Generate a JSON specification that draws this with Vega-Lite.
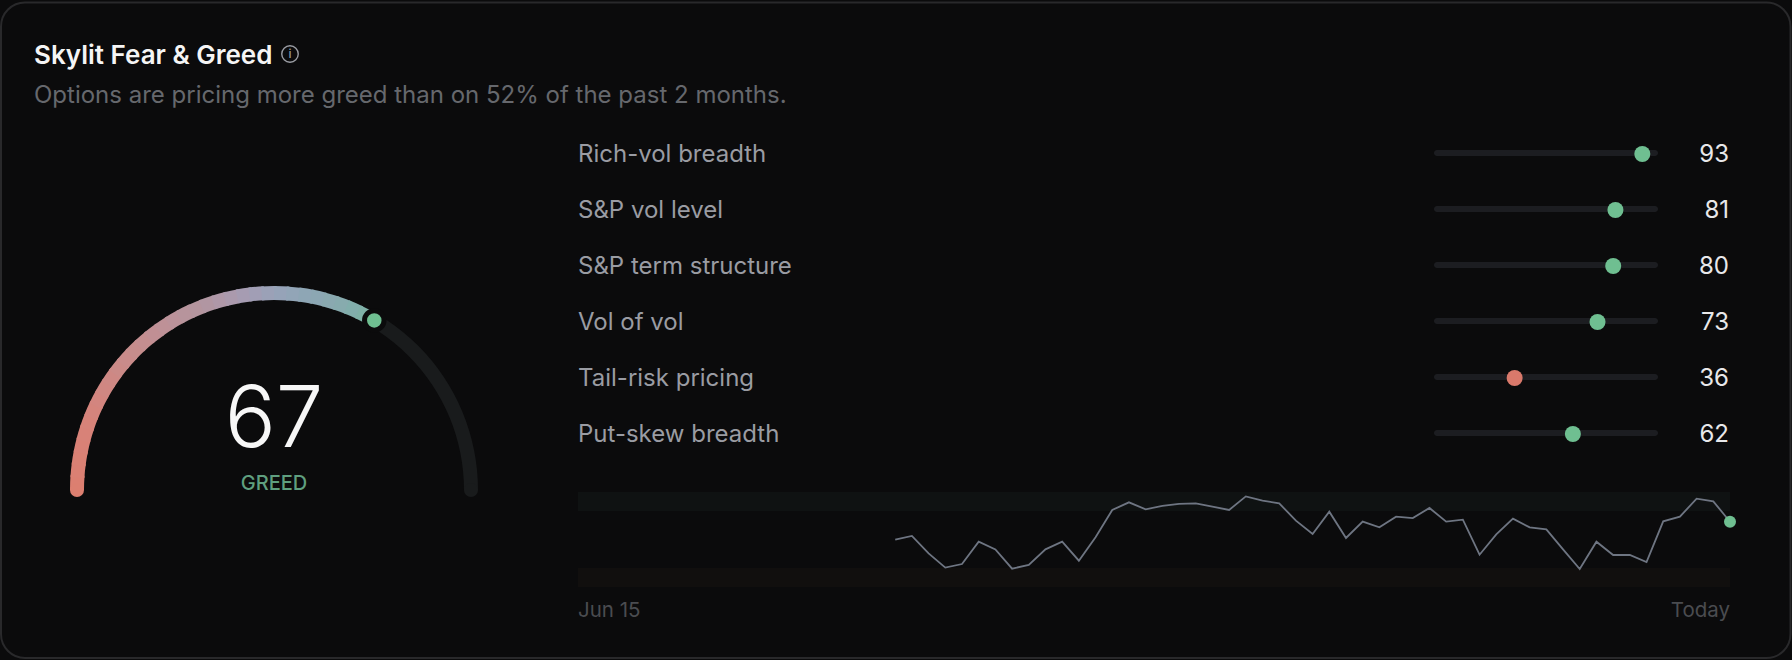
{
"$schema":"https://vega.github.io/schema/vega-lite/v6.json",
"width":1792,"height":660,"padding":0,"autosize":{"type":"none"},
"background":"#0b0b0c",
"config":{"font":"Inter","view":{"continuousWidth":1792,"continuousHeight":660,"stroke":null}},
"title":{"text":"Skylit Fear & Greed","subtitle":"Options are pricing more greed than on 52% of the past 2 months.","anchor":"start","frame":"group","dx":34,"dy":128.5,"offset":0,"baseline":"alphabetic","font":"Inter","fontSize":26,"fontWeight":600,"color":"#f5f5f5","subtitleFont":"Inter","subtitleFontSize":24,"subtitleFontWeight":400,"subtitleColor":"#66686d","subtitlePadding":12.5},
"datasets":{
"drivers":[{"driver":"Rich-vol breadth","score":93},{"driver":"S&P vol level","score":81},{"driver":"S&P term structure","score":80},{"driver":"Vol of vol","score":73},{"driver":"Tail-risk pricing","score":36},{"driver":"Put-skew breadth","score":62}],
"gauge":[{"from":0,"to":2.4,"p":1},{"from":2,"to":4.4,"p":3},{"from":4,"to":6.4,"p":5},{"from":6,"to":8.4,"p":7},{"from":8,"to":10.4,"p":9},{"from":10,"to":12.4,"p":11},{"from":12,"to":14.4,"p":13},{"from":14,"to":16.4,"p":15},{"from":16,"to":18.4,"p":17},{"from":18,"to":20.4,"p":19},{"from":20,"to":22.4,"p":21},{"from":22,"to":24.4,"p":23},{"from":24,"to":26.4,"p":25},{"from":26,"to":28.4,"p":27},{"from":28,"to":30.4,"p":29},{"from":30,"to":32.4,"p":31},{"from":32,"to":34.4,"p":33},{"from":34,"to":36.4,"p":35},{"from":36,"to":38.4,"p":37},{"from":38,"to":40.4,"p":39},{"from":40,"to":42.4,"p":41},{"from":42,"to":44.4,"p":43},{"from":44,"to":46.4,"p":45},{"from":46,"to":48.4,"p":47},{"from":48,"to":50.4,"p":49},{"from":50,"to":52.4,"p":51},{"from":52,"to":54.4,"p":53},{"from":54,"to":56.4,"p":55},{"from":56,"to":58.4,"p":57},{"from":58,"to":60.4,"p":59},{"from":60,"to":62.4,"p":61},{"from":62,"to":64.4,"p":63},{"from":64,"to":67,"p":65.5}],
"bands":[{"low":0,"high":20,"zone":"fear"},{"low":80,"high":100,"zone":"greed"}],
"history":[{"i":19,"v":49.8},{"i":20,"v":53.7},{"i":21,"v":35.4},{"i":22,"v":20.4},{"i":23,"v":24.2},{"i":24,"v":47.7},{"i":25,"v":39.6},{"i":26,"v":19.3},{"i":27,"v":23.2},{"i":28,"v":39.6},{"i":29,"v":47.7},{"i":30,"v":27.7},{"i":31,"v":52.3},{"i":32,"v":81.1},{"i":33,"v":89.1},{"i":34,"v":81.8},{"i":35,"v":85.3},{"i":36,"v":87.4},{"i":37,"v":88.1},{"i":38,"v":84.6},{"i":39,"v":81.1},{"i":40,"v":95.4},{"i":41,"v":90.9},{"i":42,"v":88.1},{"i":43,"v":69.8},{"i":44,"v":55.8},{"i":45,"v":79.3},{"i":46,"v":51.6},{"i":47,"v":68.8},{"i":48,"v":62.8},{"i":49,"v":74.0},{"i":50,"v":72.6},{"i":51,"v":83.2},{"i":52,"v":68.8},{"i":53,"v":70.9},{"i":54,"v":34.0},{"i":55,"v":55.4},{"i":56,"v":71.9},{"i":57,"v":62.8},{"i":58,"v":60.7},{"i":59,"v":39.6},{"i":60,"v":18.9},{"i":61,"v":47.7},{"i":62,"v":33.7},{"i":63,"v":33.7},{"i":64,"v":26.3},{"i":65,"v":69.1},{"i":66,"v":74.0},{"i":67,"v":93.0},{"i":68,"v":90.2},{"i":69,"v":68.7}]
},
"layer":[
{"data":{"values":[{"card":"frame"}]},"mark":{"type":"rect","fill":"#0b0b0c","stroke":"#29292b","strokeWidth":2,"cornerRadius":24},
 "encoding":{"x":{"datum":0,"type":"quantitative","scale":{"domain":[0,1],"range":[1,1790.5]},"axis":null},"x2":{"datum":1},"y":{"datum":0,"type":"quantitative","scale":{"domain":[0,1],"range":[2.5,658]},"axis":null},"y2":{"datum":1}}},
{"data":{"values":[{"from":0,"to":100}]},"mark":{"type":"arc","radius":204,"radius2":190,"color":"#191b1c"},
 "encoding":{"theta":{"field":"from","type":"quantitative","stack":null,"scale":{"domain":[0,100],"range":[-1.5708,1.5708]}},"theta2":{"field":"to"},
 "x":{"datum":0,"type":"quantitative","scale":{"domain":[-1,1],"range":[77,471]},"axis":null},"y":{"datum":0,"type":"quantitative","scale":{"domain":[0,1],"range":[490,293]},"axis":null}}},
{"data":{"values":[{"s":100}]},"transform":[{"calculate":"-cos(PI*datum.s/100)","as":"gx"},{"calculate":"sin(PI*datum.s/100)","as":"gy"}],"mark":{"type":"point","filled":true,"color":"#191b1c","size":196,"opacity":1},
 "encoding":{"x":{"field":"gx","type":"quantitative","scale":{"domain":[-1,1],"range":[77,471]},"axis":null},"y":{"field":"gy","type":"quantitative","scale":{"domain":[0,1],"range":[490,293]},"axis":null}}},
{"data":{"name":"gauge"},"mark":{"type":"arc","radius":204,"radius2":190},
 "encoding":{"theta":{"field":"from","type":"quantitative","stack":null,"scale":{"domain":[0,100],"range":[-1.5708,1.5708]}},"theta2":{"field":"to"},
 "x":{"datum":0,"type":"quantitative","scale":{"domain":[-1,1],"range":[77,471]},"axis":null},"y":{"datum":0,"type":"quantitative","scale":{"domain":[0,1],"range":[490,293]},"axis":null},
 "color":{"field":"p","type":"quantitative","legend":null,"scale":{"domain":[0,12,25,38,50,60,67],"range":["#dc7f70","#d6837a","#c68d8c","#b2969f","#98a2b8","#8aa9ae","#7eb3a2"]}}}},
{"data":{"values":[{"s":0}]},"transform":[{"calculate":"-cos(PI*datum.s/100)","as":"gx"},{"calculate":"sin(PI*datum.s/100)","as":"gy"}],"mark":{"type":"point","filled":true,"color":"#dc7f70","size":196,"opacity":1},
 "encoding":{"x":{"field":"gx","type":"quantitative","scale":{"domain":[-1,1],"range":[77,471]},"axis":null},"y":{"field":"gy","type":"quantitative","scale":{"domain":[0,1],"range":[490,293]},"axis":null}}},
{"data":{"values":[{"s":67}]},"transform":[{"calculate":"-cos(PI*datum.s/100)","as":"gx"},{"calculate":"sin(PI*datum.s/100)","as":"gy"}],"mark":{"type":"point","filled":true,"color":"#6fbf91","stroke":"#0b0b0c","strokeWidth":5,"size":380,"opacity":1},
 "encoding":{"x":{"field":"gx","type":"quantitative","scale":{"domain":[-1,1],"range":[77,471]},"axis":null},"y":{"field":"gy","type":"quantitative","scale":{"domain":[0,1],"range":[490,293]},"axis":null}}},
{"data":{"values":[{"s":67,"zone":"GREED"}]},"mark":{"type":"text","align":"center","baseline":"alphabetic","font":"Inter","fontSize":85,"fontWeight":300,"color":"#f7f7f7"},
 "encoding":{"text":{"field":"s","type":"quantitative"},"x":{"datum":0,"type":"quantitative","scale":{"domain":[-1,1],"range":[77,471]},"axis":null},"y":{"datum":0.22,"type":"quantitative","scale":{"domain":[0,1],"range":[490,293]},"axis":null}}},
{"data":{"values":[{"s":67,"zone":"GREED"}]},"mark":{"type":"text","align":"center","baseline":"alphabetic","font":"Inter","fontSize":20,"fontWeight":500,"color":"#5f9f7f"},
 "encoding":{"text":{"field":"zone"},"x":{"datum":0,"type":"quantitative","scale":{"domain":[-1,1],"range":[77,471]},"axis":null},"y":{"datum":0,"type":"quantitative","scale":{"domain":[0,1],"range":[490,293]},"axis":null}}},
{"data":{"values":[{"g":"i"}]},"mark":{"type":"point","filled":false,"stroke":"#9a9ca3","strokeWidth":1.4,"size":272,"opacity":1},
 "encoding":{"x":{"datum":0,"type":"quantitative","scale":{"domain":[0,1],"range":[290,291]},"axis":null},"y":{"datum":0,"type":"quantitative","scale":{"domain":[0,1],"range":[54,55]},"axis":null}}},
{"data":{"values":[{"g":"i"}]},"mark":{"type":"text","align":"center","baseline":"middle","font":"Inter","fontSize":12,"fontWeight":500,"color":"#9a9ca3"},
 "encoding":{"text":{"field":"g"},"x":{"datum":0,"type":"quantitative","scale":{"domain":[0,1],"range":[290,291]},"axis":null},"y":{"datum":0,"type":"quantitative","scale":{"domain":[0,1],"range":[54,55]},"axis":null}}},
{"data":{"name":"drivers"},"mark":{"type":"text","align":"left","baseline":"middle","font":"Inter","fontSize":24,"fontWeight":400,"color":"#9a9ca3"},
 "encoding":{"text":{"field":"driver"},"x":{"datum":0,"type":"quantitative","scale":{"domain":[0,1],"range":[578,1729]},"axis":null},"y":{"field":"driver","type":"nominal","sort":null,"axis":null,"scale":{"type":"point","padding":0,"range":[155,435]}}}},
{"data":{"name":"drivers"},"mark":{"type":"bar","size":6,"cornerRadius":3,"color":"#1c1d21"},
 "encoding":{"x":{"datum":0,"type":"quantitative","scale":{"domain":[0,100],"range":[1434,1658]},"axis":null},"x2":{"datum":100},"y":{"field":"driver","type":"nominal","sort":null,"axis":null,"scale":{"type":"point","padding":0,"range":[153,433]}}}},
{"data":{"name":"drivers"},"mark":{"type":"point","filled":true,"size":256,"opacity":1},
 "encoding":{"x":{"field":"score","type":"quantitative","scale":{"domain":[0,100],"range":[1434,1658]},"axis":null},"y":{"field":"driver","type":"nominal","sort":null,"axis":null,"scale":{"type":"point","padding":0,"range":[154,434]}},
 "color":{"condition":{"test":"datum.score<50","value":"#d9796b"},"value":"#6fbf91"}}},
{"data":{"name":"drivers"},"mark":{"type":"text","align":"right","baseline":"middle","font":"Inter","fontSize":24,"fontWeight":400,"color":"#e8e8ea"},
 "encoding":{"text":{"field":"score","type":"quantitative"},"x":{"datum":1,"type":"quantitative","scale":{"domain":[0,1],"range":[578,1729]},"axis":null},"y":{"field":"driver","type":"nominal","sort":null,"axis":null,"scale":{"type":"point","padding":0,"range":[155,435]}}}},
{"data":{"name":"bands"},"mark":{"type":"rect"},
 "encoding":{"x":{"datum":0,"type":"quantitative","scale":{"domain":[0,69],"range":[578,1730]},"axis":null},"x2":{"datum":69},"y":{"field":"low","type":"quantitative","scale":{"domain":[0,100],"range":[587,492]},"axis":null},"y2":{"field":"high"},
 "color":{"field":"zone","type":"nominal","legend":null,"scale":{"domain":["fear","greed"],"range":["#110f0e","#0f1212"]}}}},
{"data":{"name":"history"},"mark":{"type":"line","color":"#6e7582","strokeWidth":1.8},
 "encoding":{"x":{"field":"i","type":"quantitative","scale":{"domain":[0,69],"range":[578,1730]},"axis":null},"y":{"field":"v","type":"quantitative","scale":{"domain":[0,100],"range":[587,492]},"axis":null}}},
{"data":{"name":"history"},"transform":[{"filter":"datum.i==69"}],"mark":{"type":"point","filled":true,"color":"#6fbf91","size":144,"opacity":1},
 "encoding":{"x":{"field":"i","type":"quantitative","scale":{"domain":[0,69],"range":[578,1730]},"axis":null},"y":{"field":"v","type":"quantitative","scale":{"domain":[0,100],"range":[587,492]},"axis":null}}},
{"data":{"values":[{"day":0,"label":"Jun 15"}]},"mark":{"type":"text","align":"left","baseline":"alphabetic","font":"Inter","fontSize":20.5,"color":"#4a4c50"},
 "encoding":{"text":{"field":"label"},"x":{"field":"day","type":"quantitative","scale":{"domain":[0,69],"range":[578,1730]},"axis":null},"y":{"datum":-32,"type":"quantitative","scale":{"domain":[0,100],"range":[587,492]},"axis":null}}},
{"data":{"values":[{"day":69,"label":"Today"}]},"mark":{"type":"text","align":"right","baseline":"alphabetic","font":"Inter","fontSize":20.5,"color":"#4a4c50"},
 "encoding":{"text":{"field":"label"},"x":{"field":"day","type":"quantitative","scale":{"domain":[0,69],"range":[578,1730]},"axis":null},"y":{"datum":-32,"type":"quantitative","scale":{"domain":[0,100],"range":[587,492]},"axis":null}}}
],
"resolve":{"scale":{"x":"independent","y":"independent","color":"independent","theta":"independent"},"axis":{"x":"independent","y":"independent"}}
}
